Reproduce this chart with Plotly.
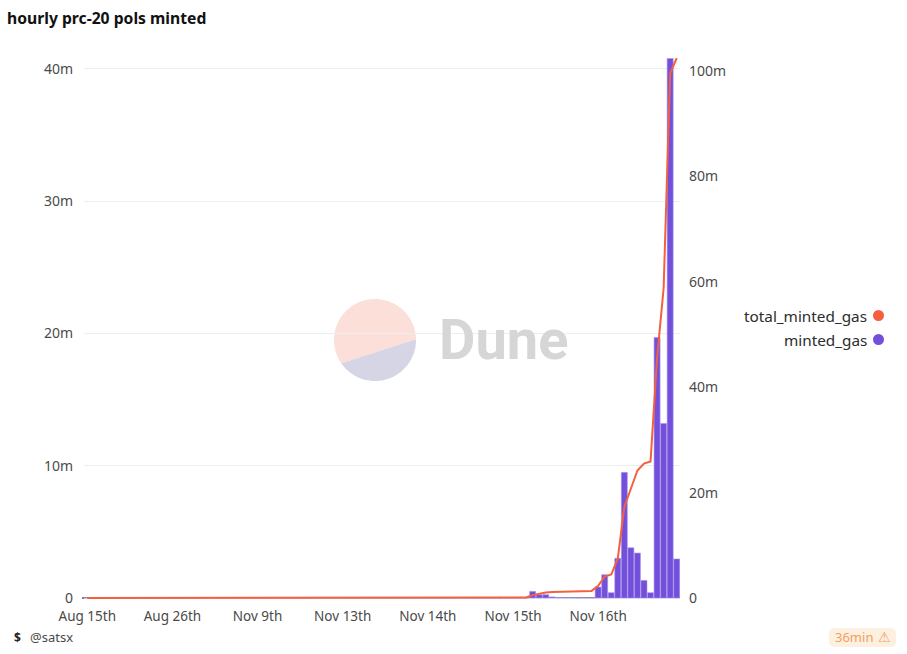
import numpy as np
import plotly.graph_objects as go

W, H = 907, 654
L, R, T, B = 84, 680, 58, 600
ZERO = 598  # pixel row of the value 0, two pixels above the plot's lower edge

# one category per hourly bucket
hours = list(range(91))
tick_positions = [0, 13, 26, 39, 52, 65, 78]
tick_labels = ["Aug 15th", "Aug 26th", "Nov 9th", "Nov 13th", "Nov 14th", "Nov 15th", "Nov 16th"]

minted_gas = [0] * 68 + [0.5, 0.25, 0.25, 0.08, 0.03, 0.03, 0.02, 0, 0, 0,
                         0.83, 1.76, 0.4, 3.0, 9.5, 3.8, 3.4, 1.33, 0.4, 19.7, 13.2, 40.8, 2.95]
total_minted_gas = [0] * 66 + [0.03, 0.1, 0.55, 0.85, 1.05, 1.15, 1.2, 1.25, 1.3, 1.32, 1.32, 1.35,
                               2.3, 4.05, 4.45, 7.45, 17.3, 20.8, 24.2, 25.5, 25.9, 45.6, 58.8, 99.6, 102.5]

left_ticks = [0, 10, 20, 30, 40]
left_labels = ["0", "10m", "20m", "30m", "40m"]
right_ticks = [0, 20, 40, 60, 80, 100]
right_labels = ["0", "20m", "40m", "60m", "80m", "100m"]

LEFT_TOP, RIGHT_TOP = 40.83, 102.5
left_low = -(B - ZERO) * LEFT_TOP / (ZERO - T)
right_low = -(B - ZERO) * RIGHT_TOP / (ZERO - T)

FONT = "Noto Sans"
TXT = "#4a4a4a"
ORANGE = "#f4603e"
PURPLE = "#7350dc"


def px(x):
    return (x - L) / (R - L)


def py(y):
    return (B - y) / (B - T)


def poly(points):
    return "M " + " L ".join(f"{px(a):.5f},{py(b):.5f}" for a, b in points) + " Z"


# watermark disc split along a chord
cx, cy, rad = 375, 340, 41
a1 = np.arctan2(339.3 - cy, 415.7 - cx)
a2 = np.arctan2(363.3 - cy, 341 - cx)
t_low = np.linspace(a1, a2, 60)
t_up = np.linspace(a2, a1 + 2 * np.pi, 120)
pink = [(cx + rad * np.cos(t), cy + rad * np.sin(t)) for t in t_up]
blue = [(cx + rad * np.cos(t), cy + rad * np.sin(t)) for t in t_low]

# rounded badge
bx0, bx1, by0, by1, r = 829, 896, 628, 647, 6
badge = (f"M {px(bx0 + r):.5f},{py(by0):.5f} L {px(bx1 - r):.5f},{py(by0):.5f} "
         f"Q {px(bx1):.5f},{py(by0):.5f} {px(bx1):.5f},{py(by0 + r):.5f} "
         f"L {px(bx1):.5f},{py(by1 - r):.5f} Q {px(bx1):.5f},{py(by1):.5f} {px(bx1 - r):.5f},{py(by1):.5f} "
         f"L {px(bx0 + r):.5f},{py(by1):.5f} Q {px(bx0):.5f},{py(by1):.5f} {px(bx0):.5f},{py(by1 - r):.5f} "
         f"L {px(bx0):.5f},{py(by0 + r):.5f} Q {px(bx0):.5f},{py(by0):.5f} {px(bx0 + r):.5f},{py(by0):.5f} Z")

shapes = [
    dict(type="path", xref="paper", yref="paper", path=poly(pink), fillcolor="#fcdfd9", line_width=0, layer="below"),
    dict(type="path", xref="paper", yref="paper", path=poly(blue), fillcolor="#d5d5e5", line_width=0, layer="below"),
    dict(type="path", xref="paper", yref="paper", path=badge, fillcolor="#fdf0e0", line_width=0, layer="below"),
    dict(type="line", xref="paper", yref="paper", x0=px(82), x1=1, y0=py(ZERO), y1=py(ZERO),
         line=dict(color="#000", width=1), layer="below"),
    dict(type="circle", xref="paper", yref="paper", x0=px(873), x1=px(884), y0=py(321), y1=py(310),
         fillcolor=ORANGE, line_width=0),
    dict(type="circle", xref="paper", yref="paper", x0=px(873), x1=px(884), y0=py(345), y1=py(334),
         fillcolor=PURPLE, line_width=0),
]


def note(text, x, y, anchor="left", size=14, color=TXT, **kw):
    return dict(text=text, xref="paper", yref="paper", x=px(x), y=py(y), xanchor=anchor, yanchor="middle",
                showarrow=False, font=dict(family=kw.pop("family", FONT), size=size, color=color), **kw)


annotations = [
    note("<b>Dune</b>", 437, 340, size=56, color="#d6d6d6", family="Roboto"),
    note("total_minted_gas", 869, 316, anchor="right", size=15.3, color="#2c2c2c"),
    note("minted_gas", 869, 340, anchor="right", size=15.3, color="#2c2c2c"),
    note("<b>$</b>", 12, 637, size=12, color="#222"),
    note("@satsx", 28, 637, size=13, color="#4a4a4a"),
    note("36min", 833, 637, size=13, color="#f0a060"),
    note("⚠", 876, 637, size=14, color="#f0a060", family="DejaVu Sans"),
]

fig = go.Figure()
fig.add_trace(go.Bar(x=hours, y=minted_gas, name="minted_gas", yaxis="y",
                     marker=dict(color=PURPLE, line=dict(color="#a995ea", width=0.6)),
                     width=0.92))
fig.add_trace(go.Scatter(x=hours, y=total_minted_gas, name="total_minted_gas", yaxis="y2", mode="lines",
                         cliponaxis=False, line=dict(color=ORANGE, width=2)))

fig.update_layout(
    width=W, height=H, autosize=False,
    margin=dict(l=L, r=W - R, t=T, b=H - B, pad=0),
    paper_bgcolor="white", plot_bgcolor="white",
    showlegend=False,
    font=dict(family=FONT, size=14, color=TXT),
    title=dict(text="<b>hourly prc-20 pols minted</b>", x=7 / W, y=1 - 19 / H, xanchor="left", yanchor="middle",
               font=dict(family=FONT, size=15.7, color="#111")),
    xaxis=dict(type="linear", range=[-0.5, 90.5], tickmode="array", tickvals=tick_positions, ticktext=tick_labels,
               showgrid=False, zeroline=False, showline=False,
               ticks="", ticklabelstandoff=6, tickfont=dict(size=13.5, color=TXT)),
    yaxis=dict(range=[left_low, LEFT_TOP], tickmode="array", tickvals=left_ticks, ticktext=left_labels,
               gridcolor="#eeeeee", gridwidth=1, zeroline=False, ticks="", ticklabelstandoff=10,
               tickfont=dict(size=14, color=TXT)),
    yaxis2=dict(range=[right_low, RIGHT_TOP], overlaying="y", side="right", tickmode="array", tickvals=right_ticks,
                ticktext=right_labels, showgrid=False, zeroline=False, ticks="", ticklabelstandoff=8,
                tickfont=dict(size=14, color=TXT)),
    shapes=shapes, annotations=annotations,
)

fig.write_html("out.html", config=dict(displayModeBar=False),
               post_script="document.body.style.margin='0';document.documentElement.style.overflow='hidden';")
